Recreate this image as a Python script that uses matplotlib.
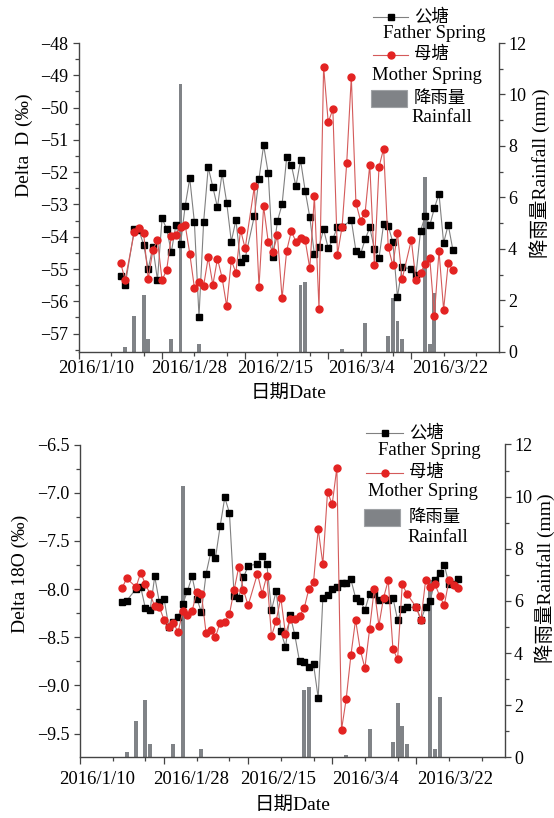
import numpy as np
import matplotlib
matplotlib.use('Agg')
import matplotlib.pyplot as plt
import matplotlib.dates as mdates
import matplotlib.transforms as mtransforms
from matplotlib.lines import Line2D
from matplotlib.patches import Rectangle
from matplotlib.ticker import FuncFormatter, MultipleLocator

plt.rcParams['font.family'] = ['Liberation Serif', 'Noto Sans CJK SC']
W, H = 554, 818
nan = np.nan

# sampling days, counted from 2016/1/19
days = [0, 1, 3, 4, 5, 6, 7, 8, 9, 10, 11, 12, 13, 14, 15, 16, 17, 18, 19, 20,
        21, 22, 23, 24, 25, 26, 27, 29, 30, 31, 32, 33, 34, 35, 36, 37, 38, 39, 40, 41,
        42, 43, 44, 45, 46, 47, 48, 49, 50, 51, 52, 53, 54, 55, 56, 57, 58, 59, 60, 61,
        63, 64, 65, 66, 67, 68, 69, 70, 71, 72]

father_D = [-55.22, -55.50, -53.76, -53.80, -54.25, -55.00, -54.31, -55.34, -53.43, -53.76,
            -54.48, -53.63, -54.23, -53.05, -52.19, -53.55, -56.47, -53.55, -51.85, -52.46,
            -53.09, -52.03, -52.94, -54.15, -53.48, -54.79, -54.67, -53.35, -52.20, -51.17,
            -52.03, -54.62, -53.51, -53.00, -51.54, -51.77, -52.44, -51.63, -52.57, -53.39,
            -54.54, -54.31, -53.77, -54.36, -54.07, -53.69, -53.70, nan, -53.48, -54.44,
            -54.54, -54.08, -53.71, -54.38, -54.67, -53.60, -53.67, -54.17, -55.86, -54.95,
            -54.99, -55.20, -53.82, -53.36, -53.65, -53.11, -52.67, -54.19, -53.63, -54.40]
mother_D = [-54.80, -55.34, -53.84, -53.74, -53.89, -55.31, -54.42, -54.10, -55.35, -55.02,
            -53.99, -53.96, -53.69, -53.63, -54.52, -55.58, -55.41, -55.52, -54.64, -55.49,
            -54.68, -55.27, -56.15, -54.73, -55.11, -53.79, -54.36, -52.44, -55.55, -53.06,
            -54.16, -54.47, -53.96, -55.91, -54.43, -53.83, -54.15, -54.03, -54.10, -54.98,
            -52.75, -56.23, -48.73, -50.46, -50.05, -54.56, -53.69, -51.73, -49.05, -52.95,
            -53.50, -53.25, -51.77, -54.89, -51.84, -51.27, -54.31, -54.89, -53.89, -55.32,
            -54.10, -55.35, -55.11, -54.84, -54.67, -56.45, -54.44, -56.26, -54.81, -55.04]
father_O = [-8.14, -8.12, -8.00, -7.98, -8.20, -8.22, -7.87, -8.14, -8.10, -8.39,
            -8.34, -8.29, -8.16, -8.02, -7.87, -8.10, -8.24, -7.84, -7.62, -7.68,
            -7.35, -7.05, -7.21, -8.07, -8.09, -7.88, -7.76, -7.74, -7.66, -7.74,
            -8.22, -8.02, -8.44, -8.60, -8.27, -8.48, -8.75, -8.76, -8.81, -8.78,
            -9.13, -8.09, -8.06, -8.00, -7.98, -7.94, -7.94, -7.90, -8.09, -8.12,
            -8.22, -8.05, -8.05, -8.11, -8.10, -8.11, -8.09, -8.32, -8.21, -8.19,
            -8.19, -8.32, -8.19, -8.12, -7.91, -7.83, -7.75, -7.95, -7.95, -7.90]
mother_O = [-7.99, -7.89, -7.98, -7.83, -7.95, -8.05, -8.18, -8.19, -8.32, -8.39,
            -8.35, -8.45, -8.23, -8.27, -8.23, -8.03, -8.05, -8.46, -8.43, -8.50,
            -8.35, -8.34, -8.26, -8.01, -7.77, -8.01, -8.17, -7.84, -8.05, -7.86,
            -8.49, -8.33, -8.09, -8.47, -8.31, -8.31, -8.28, -8.20, -8.00, -7.93,
            -7.38, -7.74, -6.99, -7.12, -6.74, -9.46, -9.14, -8.69, -8.32, -8.63,
            -8.82, -8.42, -8.00, -8.38, -8.09, -7.91, -8.62, -8.73, -7.95, -8.05,
            -8.19, -8.32, -7.91, -7.98, -7.95, -8.07, -8.17, -7.91, -7.96, -7.99]

rain_days = [1, 3, 5, 6, 11, 13, 17, 39, 40, 48, 53, 58, 59, 60, 61, 66, 67, 68]
rain_mm = [0.2, 1.4, 2.2, 0.5, 0.5, 10.4, 0.3, 2.6, 2.7, 0.1, 1.1, 0.6, 2.1, 1.2, 0.5, 6.8, 0.3, 2.3]

tick_dates = ['2016-01-10', '2016-01-28', '2016-02-15', '2016-03-04', '2016-03-22']
tick_text = ['2016/1/10', '2016/1/28', '2016/2/15', '2016/3/4', '2016/3/22']
label_shift = [17, 27, 30, 33, 39]

t0 = mdates.datestr2num('2016-01-19')
x = t0 + np.array(days)
xr = t0 + np.array(rain_days)
majors = [mdates.datestr2num(d) for d in tick_dates]
minors = [m + k for m in majors for k in (7, 14)]

fig = plt.figure(figsize=(W / 100, H / 100), dpi=100)


def px(a, b):
    return a / W, 1 - b / H


def minus(fmt):
    return FuncFormatter(lambda v, p: fmt.format(v).replace('-', '\u2212'))


def panel(box, father, mother, ylim, ystep, yfmt, lab_dy):
    ax = fig.add_axes(box)
    ax2 = ax.twinx()
    ax.set_zorder(ax2.get_zorder() + 1)
    ax.patch.set_visible(False)

    ax2.bar(xr, rain_mm, width=0.85, color='#808387', zorder=1)
    f = np.array(father)
    ok = ~np.isnan(f)
    ax.plot(x[ok], f[ok], '-', color='#808080', lw=0.8, marker='s', ms=4,
            mfc='black', mec='black')
    ax.plot(x, mother, '-', color='#d45a5a', lw=0.8, marker='o', ms=5,
            mfc='#e32322', mec='#e32322')

    ax.set_xlim(mdates.datestr2num('2016-01-10'), mdates.datestr2num('2016-04-10'))
    ax.set_ylim(*ylim)
    ax2.set_ylim(0, 12)
    ax.set_xticks(majors)
    ax.set_xticks(minors, minor=True)
    ax.yaxis.set_major_locator(MultipleLocator(ystep))
    ax.yaxis.set_minor_locator(MultipleLocator(ystep / 2))
    ax.yaxis.set_major_formatter(minus(yfmt))
    ax2.yaxis.set_major_locator(MultipleLocator(2))
    ax2.yaxis.set_minor_locator(MultipleLocator(1))

    for a in (ax, ax2):
        a.spines['top'].set_visible(False)
        for s in a.spines.values():
            s.set_color('#444444')
            s.set_linewidth(1.0)
    ax.spines['right'].set_visible(False)
    ax2.spines['left'].set_visible(False)
    ax2.spines['bottom'].set_visible(False)

    ax.tick_params(axis='y', which='major', length=4.5, width=0.9, labelsize=13, pad=3,
                   color='#444444')
    ax.tick_params(axis='y', which='minor', length=2.6, width=0.9, color='#444444')
    ax.tick_params(axis='x', which='major', length=5, width=0.9, labelbottom=False,
                   color='#444444')
    ax.tick_params(axis='x', which='minor', length=3, width=0.9, color='#444444')
    ax2.tick_params(axis='y', which='major', length=4.5, width=0.9, labelsize=13, pad=2,
                    color='#444444')
    ax2.tick_params(axis='y', which='minor', length=2.6, width=0.9, color='#444444')

    for d, s, off in zip(majors, tick_text, label_shift):
        tr = mtransforms.offset_copy(ax.get_xaxis_transform(), fig=fig, x=off, y=lab_dy,
                                     units='dots')
        ax.text(d, 0, s, transform=tr, ha='center', va='center', fontsize=13.5,
                clip_on=False)
    return ax


def legend(hx, tx, ys, en_x):
    # ys: rows for father, mother, rainfall (Chinese line, english line below)
    (yf, yfe), (ym, yme), (yr, yre) = ys
    for yy, mk, ms, mc, lc in [(yf, 's', 4, 'black', '#808080'),
                               (ym, 'o', 5, '#e32322', '#d45a5a')]:
        fig.add_artist(Line2D([px(hx[0], yy)[0], px(hx[1], yy)[0]],
                              [px(0, yy)[1]] * 2, color=lc, lw=0.8,
                              transform=fig.transFigure))
        fig.add_artist(Line2D([px((hx[0] + hx[1]) / 2, yy)[0]], [px(0, yy)[1]],
                              marker=mk, ms=ms, color=mc, transform=fig.transFigure))
    x0, y0 = px(hx[0] - 2, yr + 8)
    fig.add_artist(Rectangle((x0, y0), 36 / W, 17 / H, facecolor='#808387',
                             edgecolor='#a0a3a6', lw=0.8, transform=fig.transFigure))
    for (cn, en), (yc, ye), ex in zip([('公塘', 'Father Spring'), ('母塘', 'Mother Spring'),
                                        ('降雨量', 'Rainfall')], ys, en_x):
        fig.text(*px(tx, yc), cn, ha='left', va='center', fontsize=12.5)
        fig.text(*px(ex, ye), en, ha='center', va='center', fontsize=13.5)


# delta D panel
panel([79 / W, 1 - 351.7 / H, 420 / W, 308.7 / H], father_D, mother_D,
      (-57.56, -48), 1, '{:.0f}', -17)
legend((373, 408), 414, [(17, 34), (55, 75), (99, 118)], (434, 427, 442))
fig.text(*px(24, 145), 'Delta  D (‰)', rotation=90, ha='center', va='center', fontsize=14)
fig.text(*px(540, 173), '降雨量Rainfall (mm)', rotation=90, ha='center', va='center',
         fontsize=14)
fig.text(*px(289, 393), '日期Date', ha='center', va='center', fontsize=14)

# delta 18O panel
panel([80 / W, 1 - 757.3 / H, 425 / W, 312.8 / H], father_O, mother_O,
      (-9.747, -6.5), 0.5, '{:.1f}', -22)
legend((366, 403), 409, [(433, 450), (473, 492), (518, 537)], (429, 423, 438))
fig.text(*px(20, 574), 'Delta 18O (‰)', rotation=90, ha='center', va='center', fontsize=14)
fig.text(*px(545, 578), '降雨量Rainfall (mm)', rotation=90, ha='center', va='center',
         fontsize=14)
fig.text(*px(293, 805), '日期Date', ha='center', va='center', fontsize=14)

fig.savefig('out.png', dpi=100)
